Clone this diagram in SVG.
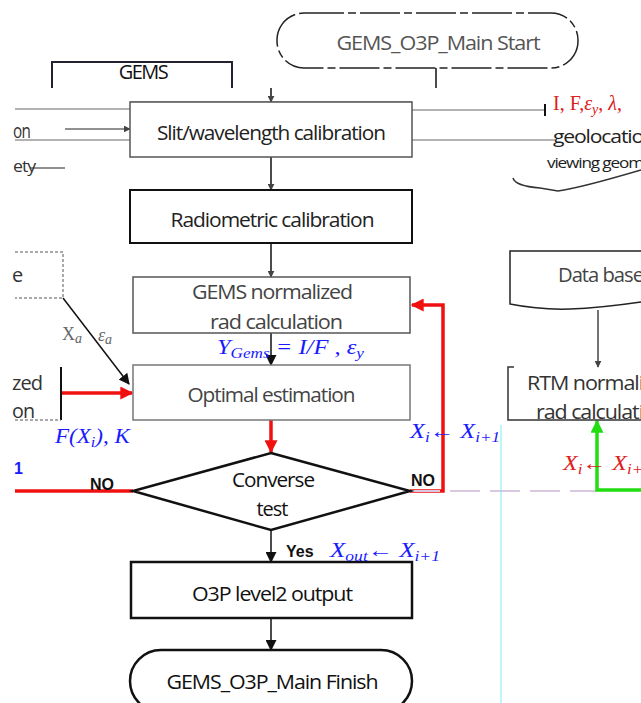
<svg xmlns="http://www.w3.org/2000/svg" width="641" height="703" viewBox="0 0 641 703">
<style>
.box{fill:#fff;stroke:#111;stroke-width:2}
.gbox{fill:#fff;stroke:#555;stroke-width:1.5}
.t{font-family:"Open Sans","Liberation Sans",sans-serif;font-size:20px;fill:#222;text-anchor:middle;letter-spacing:-1px}
.tl{font-family:"Open Sans","Liberation Sans",sans-serif;font-size:20px;fill:#333;letter-spacing:-1px}
.m{font-family:"Liberation Serif",serif;font-style:italic;font-size:20px;fill:#1a1aff}
.b{font-family:"Liberation Sans",sans-serif;font-weight:bold;font-size:16px;fill:#111}
.ln{stroke:#111;stroke-width:1.5;fill:none}
.thin{stroke:#666;stroke-width:1;fill:none}
.red{stroke:#f01010;stroke-width:3.5;fill:none}
.green{stroke:#22dd11;stroke-width:3.5;fill:none}
</style>
<defs>
<marker id="ah" viewBox="0 0 10 10" refX="9" refY="5" markerWidth="7" markerHeight="7" markerUnits="userSpaceOnUse" orient="auto"><path d="M0,0 L10,5 L0,10 z" fill="#444"/></marker>
<marker id="ahb" viewBox="0 0 10 10" refX="9" refY="5" markerWidth="11" markerHeight="11" markerUnits="userSpaceOnUse" orient="auto"><path d="M0,0 L10,5 L0,10 z" fill="#111"/></marker>
<marker id="ahr" viewBox="0 0 10 10" refX="9" refY="5" markerWidth="13" markerHeight="13" markerUnits="userSpaceOnUse" orient="auto"><path d="M0,0 L10,5 L0,10 z" fill="#f01010"/></marker>
<marker id="ahg" viewBox="0 0 10 10" refX="9" refY="5" markerWidth="13" markerHeight="13" markerUnits="userSpaceOnUse" orient="auto"><path d="M0,0 L10,5 L0,10 z" fill="#22dd11"/></marker>
</defs>
<rect width="641" height="703" fill="#fff"/>

<g id="connectors">
<line class="ln" x1="436" y1="68" x2="436" y2="88"/>
<line class="thin" x1="130" y1="102" x2="412" y2="102"/>
<line class="ln" x1="271" y1="88" x2="271" y2="102" marker-end="url(#ah)"/>
<line class="ln" x1="271" y1="157" x2="271" y2="190" marker-end="url(#ah)"/>
<line class="ln" x1="271" y1="243" x2="271" y2="277" marker-end="url(#ah)"/>
<line class="ln" x1="271" y1="333" x2="271" y2="365" marker-end="url(#ahb)"/>
<line class="red" x1="271" y1="420" x2="271" y2="452" marker-end="url(#ahr)"/>
<line class="ln" x1="271" y1="530" x2="271" y2="562" stroke-width="2.5" marker-end="url(#ahb)"/>
<line class="ln" x1="271" y1="618" x2="271" y2="650" stroke-width="2.5" marker-end="url(#ahb)"/>
<polyline class="red" points="410,491 443,491 443,305 412,305" marker-end="url(#ahr)"/>
<line class="red" x1="15" y1="491" x2="133" y2="491"/>
<line x1="410" y1="491" x2="597" y2="491" stroke="#d8c8e0" stroke-width="2" stroke-dasharray="30,10"/>
<line class="red" x1="62" y1="393" x2="132" y2="393" marker-end="url(#ahr)"/>
<line class="ln" x1="63" y1="298" x2="129" y2="384" stroke="#333" marker-end="url(#ahb)"/>
<line class="thin" x1="65" y1="129" x2="130" y2="129" style="stroke:#222" marker-end="url(#ah)"/>
<line class="thin" x1="15" y1="109" x2="162" y2="109"/>
<line class="ln" x1="162" y1="104" x2="162" y2="114"/>
<line class="thin" x1="15" y1="140" x2="165" y2="140"/>
<line class="thin" x1="30" y1="168" x2="65" y2="168" style="stroke:#222"/>
<line class="thin" x1="412" y1="110" x2="545" y2="110"/>
<line class="ln" x1="545" y1="104" x2="545" y2="116" style="stroke-width:2"/>
<line class="thin" x1="412" y1="140" x2="555" y2="140"/>
<line class="ln" x1="598" y1="310" x2="598" y2="367" style="stroke:#444" marker-end="url(#ah)"/>
<polyline class="green" points="641,490 597,490 597,421" marker-end="url(#ahg)"/>
<line x1="501" y1="425" x2="501" y2="703" stroke="#7fe8f0" stroke-width="1"/>
</g>

<g id="start">
<rect x="277" y="13" width="301" height="55" rx="27" fill="#fff" stroke="#222" stroke-width="1.5" stroke-dasharray="40,4,8,4"/>
<text class="t" x="438" y="50" textLength="203" lengthAdjust="spacingAndGlyphs" style="fill:#555">GEMS_O3P_Main Start</text>
</g>

<g id="gems">
<polyline class="ln" points="52,88 52,62 232,62 232,88" style="stroke:#223;stroke-width:2"/>
<text x="143" y="79" text-anchor="middle" font-family="Open Sans,Liberation Sans,sans-serif" font-size="20" fill="#111" letter-spacing="-1.5">GEMS</text>
</g>

<g id="slit">
<rect class="gbox" x="130" y="102" width="282" height="55"/>
<text class="t" x="271" y="140" textLength="228" lengthAdjust="spacingAndGlyphs">Slit/wavelength calibration</text>
</g>

<g id="radiometric">
<rect class="box" x="130" y="190" width="282" height="53"/>
<text class="t" x="272" y="227" textLength="203" lengthAdjust="spacingAndGlyphs">Radiometric calibration</text>
</g>

<g id="gemsnorm">
<rect class="gbox" x="133" y="277" width="277" height="56"/>
<text class="t" x="272" y="299" textLength="160" lengthAdjust="spacingAndGlyphs" style="fill:#444">GEMS normalized</text>
<text class="t" x="276" y="329" textLength="132" lengthAdjust="spacingAndGlyphs" style="fill:#444">rad calculation</text>
</g>

<g id="optimal">
<rect x="133" y="365" width="277" height="55" fill="#fff" stroke="#777" stroke-width="1.5"/>
<text class="t" x="271" y="402" textLength="167" lengthAdjust="spacingAndGlyphs" style="fill:#444">Optimal estimation</text>
</g>

<g id="converse">
<polygon points="271,453 410,491 271,530 133,491" fill="#fff" stroke="#111" stroke-width="2.5"/>
<text class="t" x="273" y="487" textLength="82" lengthAdjust="spacingAndGlyphs" style="fill:#111">Converse</text>
<text class="t" x="272" y="516" textLength="31" lengthAdjust="spacingAndGlyphs" style="fill:#111">test</text>
</g>

<g id="output">
<rect class="box" x="131" y="562" width="281" height="56" style="stroke-width:2.5"/>
<text class="t" x="272" y="601" textLength="160" lengthAdjust="spacingAndGlyphs" style="fill:#111">O3P level2 output</text>
</g>

<g id="finish">
<rect x="130" y="650" width="282" height="62" rx="31" fill="#fff" stroke="#111" stroke-width="2.5"/>
<text class="t" x="272" y="689" textLength="211" lengthAdjust="spacingAndGlyphs" style="fill:#111">GEMS_O3P_Main Finish</text>
</g>

<g id="left-top">
<text class="tl" x="13" y="138" textLength="17" lengthAdjust="spacingAndGlyphs">on</text>
<text class="tl" x="13" y="172" textLength="22" lengthAdjust="spacingAndGlyphs" style="font-size:17px">ety</text>
</g>

<g id="left-prior">
<polyline points="15,252 63,252 63,298 15,298" fill="none" stroke="#555" stroke-width="1" stroke-dasharray="3,2"/>
<text class="tl" x="12" y="282">e</text>
<text x="62" y="340" font-family="Liberation Serif,serif" font-size="18" fill="#666">X<tspan font-style="italic" font-size="14" dy="3">a</tspan></text>
<text x="98" y="341" font-family="Liberation Serif,serif" font-style="italic" font-size="18" fill="#666">ε<tspan font-size="14" dy="3">a</tspan></text>
</g>

<g id="left-fwd">
<line x1="61" y1="367" x2="61" y2="420" stroke="#111" stroke-width="2"/>
<line x1="15" y1="420" x2="61" y2="420" stroke="#555" stroke-width="1" stroke-dasharray="3,2"/>
<text class="tl" x="12" y="390" textLength="30" lengthAdjust="spacingAndGlyphs">zed</text>
<text class="tl" x="12" y="418" textLength="22" lengthAdjust="spacingAndGlyphs">on</text>
</g>

<g id="labels">
<text class="m" x="217" y="354" textLength="147" lengthAdjust="spacingAndGlyphs">Y<tspan font-size="14" dy="4">Gems</tspan><tspan dy="-4"> = I/F , ε</tspan><tspan font-size="14" dy="4">y</tspan></text>
<text class="m" x="55" y="443" textLength="75" lengthAdjust="spacingAndGlyphs">F(X<tspan font-size="14" dy="4">i</tspan><tspan dy="-4">), K</tspan></text>
<text class="m" x="410" y="438" textLength="90" lengthAdjust="spacingAndGlyphs">X<tspan font-size="14" dy="4">i</tspan><tspan dy="-4">← X</tspan><tspan font-size="14" dy="4">i+1</tspan></text>
<text class="m" x="330" y="557" textLength="110" lengthAdjust="spacingAndGlyphs">X<tspan font-size="14" dy="4">out</tspan><tspan dy="-4">← X</tspan><tspan font-size="14" dy="4">i+1</tspan></text>
<text class="b" x="14" y="474" style="fill:#1a1aff">1</text>
<text class="b" x="90" y="490">NO</text>
<text class="b" x="411" y="486">NO</text>
<text class="b" x="286" y="557">Yes</text>
</g>

<g id="right-inputs">
<text x="553" y="110" font-family="Liberation Serif,serif" font-size="20" fill="#e02020">I, F,<tspan font-style="italic">ε</tspan><tspan font-style="italic" font-size="14" dy="4">y</tspan><tspan dy="-4">, </tspan><tspan font-style="italic">λ</tspan>,</text>
<text class="tl" x="553" y="143" textLength="90" lengthAdjust="spacingAndGlyphs" style="fill:#222;font-size:18px">geolocatio</text>
<text class="tl" x="547" y="168" textLength="96" lengthAdjust="spacingAndGlyphs" style="fill:#222;font-size:15px">viewing geom</text>
<path d="M513,178 Q515,186 540,188 L558,191 Q580,188 641,170" fill="none" stroke="#333" stroke-width="1.5"/>
</g>

<g id="database">
<path d="M641,251 L510,251 L510,304 Q540,310 570,309 Q600,308 641,302" fill="#fff" stroke="#222" stroke-width="1.5"/>
<text class="tl" x="558" y="282" textLength="85" lengthAdjust="spacingAndGlyphs" style="fill:#444">Data base</text>
</g>

<g id="rtm">
<path d="M641,420 L508,420 L508,367 L514,367" fill="none" stroke="#333" stroke-width="1.5"/>
<text class="tl" x="527" y="390" textLength="116" lengthAdjust="spacingAndGlyphs">RTM normali</text>
<text class="tl" x="536" y="419" textLength="107" lengthAdjust="spacingAndGlyphs">rad calculati</text>
</g>

<g id="right-label">
<text class="m" x="563" y="470" textLength="80" lengthAdjust="spacingAndGlyphs" style="fill:#e02020">X<tspan font-size="14" dy="4">i</tspan><tspan dy="-4">← X</tspan><tspan font-size="14" dy="4">i+</tspan></text>
</g>
</svg>
